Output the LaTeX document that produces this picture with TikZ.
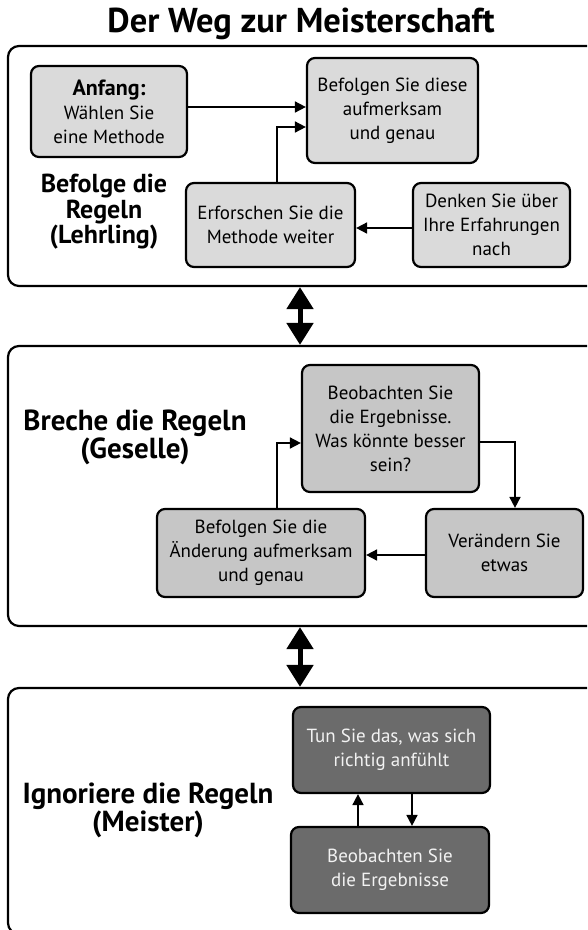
\documentclass[tikz,border=0pt]{standalone}
\usepackage{fontspec}
\setmainfont{PT Sans}
\usetikzlibrary{arrows.meta}
\definecolor{fillA}{HTML}{DADADA}
\definecolor{fillB}{HTML}{C6C6C6}
\definecolor{fillC}{HTML}{6B6B6B}
\definecolor{txtC}{HTML}{F2F2F2}
\begin{document}
\begin{tikzpicture}[x=1pt,y=-1pt,
  panel/.style={draw, line width=2.2pt, rounded corners=11pt, inner sep=0pt, minimum width=612pt},
  box/.style={draw, line width=2.2pt, rounded corners=8pt, inner sep=0pt, align=center,
    font=\fontsize{19}{24}\selectfont},
  sz/.style 2 args={minimum width=#1pt, minimum height=#2pt},
  light/.style={box, fill=fillA},
  mid/.style={box, fill=fillB},
  dark/.style={box, fill=fillC, text=txtC},
  arr/.style={line width=1.7pt, -{Triangle[length=11pt,width=11pt]}},
  bigarr/.style={line width=5pt, {Triangle[length=22pt,width=26pt]}-{Triangle[length=22pt,width=26pt]}},
  lbl/.style={align=center, inner sep=0pt, font=\bfseries\fontsize{26}{25.5}\selectfont},
  lblb/.style={align=center, inner sep=0pt, font=\bfseries\fontsize{29}{26}\selectfont},
]
\clip (0,0) rectangle (587,930);

% title
\node[inner sep=0pt, font=\bfseries\fontsize{34.5}{34.5}\selectfont] (title) at (301,24) {Der Weg zur Meisterschaft};

% panels
\node[panel, minimum height=240pt] (p1) at (314,166) {};
\node[panel, minimum height=280pt] (p2) at (314,486) {};
\node[panel, minimum height=246pt] (p3) at (314,811) {};

% panel 1
\node[light, sz={156}{91}] (a) at (109,111.5) {{\bfseries\fontsize{22}{24}\selectfont Anfang:}\\Wählen Sie\\eine Methode};
\node[light, sz={171}{105}] (b) at (392.5,110.5) {Befolgen Sie diese\\aufmerksam\\und genau};
\node[light, sz={169}{84}] (c) at (270.5,225) {Erforschen Sie die\\Methode weiter};
\node[light, sz={157}{84}] (d) at (491.5,225) {Denken Sie über\\Ihre Erfahrungen\\nach};
\node[lbl] (l1) at (104,212) {Befolge die\\Regeln\\(Lehrling)};

\draw[arr] ([yshift=4.5pt]a.east) -- ([yshift=4.5pt]a.east -| b.west);
\draw[arr] ([xshift=6.5pt]c.north) |- ([yshift=-16.5pt]b.west);
\draw[arr] ([yshift=-3pt]d.west) -- ([yshift=-3pt]d.west -| c.east);

% panel 2
\node[mid, sz={177}{127}] (e) at (390.5,428.5) {Beobachten Sie\\die Ergebnisse.\\Was könnte besser\\sein?};
\node[mid, sz={157}{88}] (f) at (504.5,553) {Verändern Sie\\etwas};
\node[mid, sz={208}{88}] (g) at (261,553) {Befolgen Sie die\\Änderung aufmerksam\\und genau};
\node[lblb] (l2) at (135,437) {Breche die Regeln\\(Geselle)};

\draw[arr] ([yshift=-13.5pt]e.east) -| ([xshift=10.5pt]f.north);
\draw[arr] ([yshift=-2pt]f.west) -- ([yshift=-2pt]f.west -| g.east);
\draw[arr] ([xshift=16pt]g.north) |- ([yshift=-14.5pt]e.west);

% panel 3
\node[dark, sz={197}{86}] (h) at (391.5,750) {Tun Sie das, was sich\\richtig anfühlt};
\node[dark, sz={198}{86}] (i) at (390,870) {Beobachten Sie\\die Ergebnisse};
\node[lblb] (l3) at (148,810) {Ignoriere die Regeln\\(Meister)};

\draw[arr] ([xshift=-32pt]i.north) -- ([xshift=-32pt]i.north |- h.south);
\draw[arr] ([xshift=20.5pt]h.south) -- ([xshift=20.5pt]h.south |- i.north);

% big double arrows
\draw[bigarr] ([xshift=-14pt]p1.south) -- ([xshift=-14pt]p2.north);
\draw[bigarr] ([xshift=-14pt]p2.south) -- ([xshift=-14pt]p3.north);
\end{tikzpicture}
\end{document}
